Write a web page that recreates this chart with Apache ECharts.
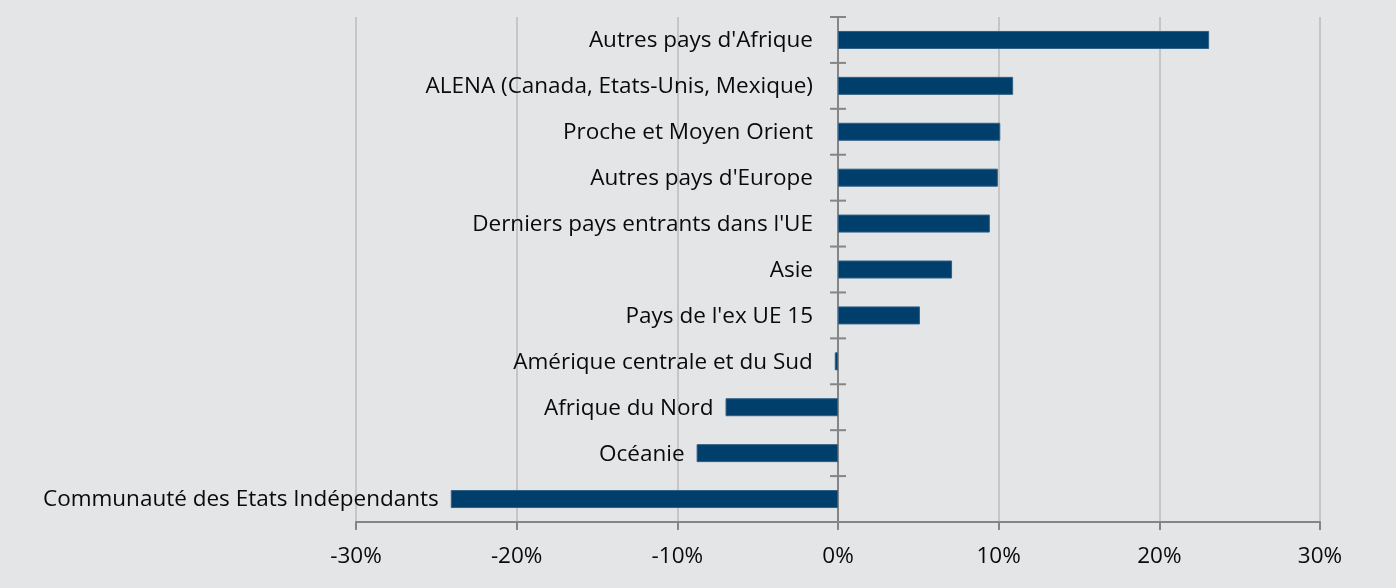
<!DOCTYPE html>
<html>
<head>
<meta charset="utf-8">
<script src="https://cdn.jsdelivr.net/npm/echarts@6/dist/echarts.min.js"></script>
<style>
  html, body { margin: 0; padding: 0; background: #e4e5e6; }
  #chart { width: 1396px; height: 588px; }
</style>
</head>
<body>
<div id="chart"></div>
<script>
const categories = [
  "Autres pays d'Afrique",
  'ALENA (Canada, Etats-Unis, Mexique)',
  'Proche et Moyen Orient',
  "Autres pays d'Europe",
  "Derniers pays entrants dans l'UE",
  'Asie',
  "Pays de l'ex UE 15",
  'Amérique centrale et du Sud',
  'Afrique du Nord',
  'Océanie',
  'Communauté des Etats Indépendants'
];
const values = [23.1, 10.9, 10.1, 9.95, 9.45, 7.1, 5.1, -0.2, -7.0, -8.8, -24.1];
const xTicks = [-30, -20, -10, 0, 10, 20, 30];

const chart = echarts.init(document.getElementById('chart'));
const fontFamily = '"Open Sans", sans-serif';
const axisGray = '#858585';

// cross ticks on the zero axis, at the boundaries between categories
function renderZeroTicks(params, api) {
  const i = api.value(1);
  const c = api.coord([0, i]);
  const half = api.size([0, 1])[1] / 2;
  const ys = [c[1] - half];
  if (i === categories.length - 1) ys.push(c[1] + half);
  return {
    type: 'group',
    children: ys.map(y => ({
      type: 'line',
      shape: { x1: c[0] - 8, y1: y, x2: c[0] + 8, y2: y },
      style: { stroke: axisGray, lineWidth: 2 }
    }))
  };
}

chart.setOption({
  backgroundColor: '#e4e5e6',
  animation: false,
  grid: { left: 356, right: 76, top: 17, bottom: 66 },
  xAxis: {
    type: 'value',
    min: xTicks[0],
    max: xTicks[xTicks.length - 1],
    interval: 10,
    axisLine: { show: true, onZero: false, lineStyle: { color: axisGray, width: 2 } },
    axisTick: { show: true, length: 8, lineStyle: { color: axisGray, width: 2 } },
    axisLabel: {
      formatter: v => v + '%',
      color: '#0a0a0a',
      fontSize: 22.5,
      fontFamily: fontFamily,
      margin: 23
    },
    splitLine: { show: true, lineStyle: { color: '#c6c6c6', width: 2 } }
  },
  yAxis: {
    type: 'category',
    data: categories,
    inverse: true,
    axisLine: { show: true, onZero: true, lineStyle: { color: axisGray, width: 2 } },
    axisTick: { show: false },
    axisLabel: { show: false }
  },
  series: [
    {
      type: 'bar',
      barWidth: 18,
      data: values.map(v => ({
        value: v,
        label: { distance: v >= 0 ? 25 : (v < -1 ? 12 : 22) }
      })),
      itemStyle: { color: '#003f6c', borderColor: '#2f5f86', borderWidth: 1 },
      label: {
        show: true,
        position: 'left',
        offset: [0, 1],
        formatter: p => p.name,
        color: '#0a0a0a',
        fontSize: 22.5,
        fontFamily: fontFamily
      }
    },
    {
      type: 'custom',
      renderItem: renderZeroTicks,
      data: categories.map((c, i) => [0, i]),
      silent: true,
      z: 5
    }
  ]
});
</script>
</body>
</html>
